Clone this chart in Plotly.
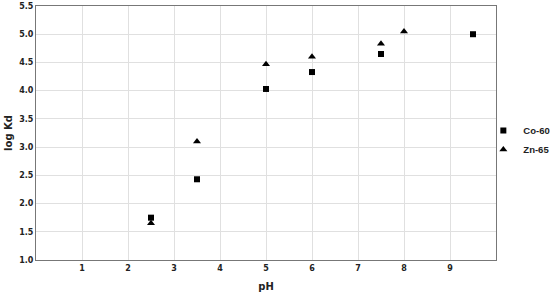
import plotly.graph_objects as go

ph_co = [2.5, 3.5, 5, 6, 7.5, 9.5]
logkd_co = [1.75, 2.43, 4.03, 4.33, 4.65, 5.0]
ph_zn = [2.5, 3.5, 5, 6, 7.5, 8]
logkd_zn = [1.65, 3.1, 4.47, 4.6, 4.83, 5.05]

fig = go.Figure()
fig.add_trace(go.Scatter(x=ph_co, y=logkd_co, mode='markers', name='Co-60',
                         marker=dict(symbol='square', size=6, color='black')))
fig.add_trace(go.Scatter(x=ph_zn, y=logkd_zn, mode='markers', name='Zn-65',
                         marker=dict(symbol='triangle-up', size=7, color='black')))

tickfont = dict(family='DejaVu Sans', size=8, color='#222', weight='bold')
fig.update_layout(
    width=550, height=296,
    margin=dict(l=36, r=54, t=6, b=36, autoexpand=False),
    plot_bgcolor='white', paper_bgcolor='white',
    font=dict(family='DejaVu Sans', color='#222'),
    xaxis=dict(range=[0, 10], tickvals=[1, 2, 3, 4, 5, 6, 7, 8, 9],
               showgrid=True, gridcolor='#e0e0e0', zeroline=False,
               showline=True, linecolor='#777', mirror=True, linewidth=1,
               tickfont=tickfont, ticks='',
               title=dict(text='<b>pH</b>', font=dict(size=10), standoff=11)),
    yaxis=dict(range=[1.0, 5.5], dtick=0.5, tickformat='.1f',
               showgrid=True, gridcolor='#e0e0e0', zeroline=False,
               showline=True, linecolor='#777', mirror=True, linewidth=1,
               tickfont=tickfont, ticks='',
               title=dict(text='<b>log Kd</b>', font=dict(size=10), standoff=4)),
    legend=dict(x=0.9725, y=0.472, xanchor='left', yanchor='middle',
                font=dict(family='Liberation Sans', size=9.5, color='#222', weight='bold'),
                itemwidth=30, tracegroupgap=0, bgcolor='rgba(0,0,0,0)'),
)

fig.write_html("out.html", config={'displayModeBar': False},
               post_script="document.body.style.margin='0';")
